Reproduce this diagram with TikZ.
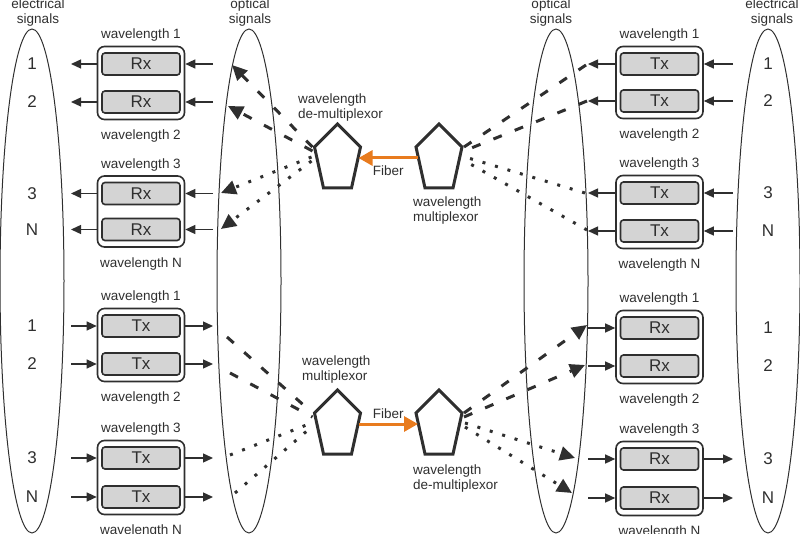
\documentclass[tikz,border=0pt]{standalone}
\usepackage{fontspec}
\setmainfont{Liberation Sans}
\usetikzlibrary{arrows.meta,positioning}
\definecolor{ink}{HTML}{2F2F2F}
\definecolor{unitgray}{HTML}{D4D4D4}
\definecolor{fiberorange}{HTML}{E87B1E}
\tikzset{
  lbl/.style={font=\fontsize{13.5}{15}\selectfont,text=ink,inner sep=0pt},
  num/.style={font=\fontsize{17}{18}\selectfont,text=ink,inner sep=0pt},
  frame/.style={draw=ink,line width=1.6pt,rounded corners=7pt,fill=white,minimum width=87pt},
  unit/.style={num,draw=ink,line width=1.6pt,rounded corners=3pt,fill=unitgray,minimum width=78pt,minimum height=22pt},
  sig/.style={draw=ink,line width=1.3pt,-{Triangle[length=10pt,width=9pt]}},
  dsh/.style={draw=ink,line width=3pt,dash pattern=on 9pt off 14pt},
  dts/.style={draw=ink,line width=3pt,dash pattern=on 3pt off 10pt},
  big tip/.style={-{Triangle[length=15pt,width=14pt]}},
  fib/.style={draw=fiberorange,line width=3pt,-{Triangle[length=14pt,width=15pt]}},
  penta/.pic={
    \draw[ink,line width=3pt,line join=miter] (0,-36)--(23,-13)--(14,28)--(-14,28)--(-23,-13)--cycle;
    \coordinate (-w) at (-21,-2); \coordinate (-e) at (21,-2);
    \foreach \p/\dx/\dy in {1/25/-13,2/25/-9,3/26/-3,4/26/1}{
      \coordinate (-w\p) at (-\dx,\dy); \coordinate (-e\p) at (\dx,\dy);
    }
  }
}
\begin{document}
\begin{tikzpicture}[x=1pt,y=-1pt]
\useasboundingbox (0,0) rectangle (800,534);
\foreach \e/\x in {elL/32,opL/249,opR/556,elR/768}{
  \coordinate (\e) at (\x,281);
  \draw[ink,line width=1pt] (\e) ellipse [x radius=32pt,y radius=252pt];
}
\node[lbl,align=center] (hd-elL) at (38,13) {electrical\\signals};
\node[lbl,align=center] (hd-opL) at (250,13) {optical\\signals};
\node[lbl,align=center] (hd-opR) at (551,13) {optical\\signals};
\node[lbl,align=center] (hd-elR) at (772,13) {electrical\\signals};

\foreach \n/\x/\ya/\yb/\u/\wa/\wb in {tl/141/64/102/Rx/1/2,tm/141/193.5/229.5/Rx/3/N,
    bl/141/326/364/Tx/1/2,bm/141/458/497/Tx/3/N,tr/659.5/64/101/Tx/1/2,tn/659.5/193/231/Tx/3/N,
    br/659.5/328/366/Rx/1/2,bn/659.5/459/498/Rx/3/N}{
  \node[frame,minimum height={\yb-\ya+35}] (\n) at (\x,{(\ya+\yb)/2}) {};
  \node[unit] (\n1) at (\x,\ya) {\u};
  \node[unit] (\n2) at (\x,\yb) {\u};
  \node[lbl,above=4pt of \n] (\n-up) {wavelength \wa};
  \node[lbl,below=9.5pt of \n] (\n-dn) {wavelength \wb};
}

\foreach \r/\t in {tl1/1,tl2/2,tm1/3,tm2/N,bl1/1,bl2/2,bm1/3,bm2/N}
  \node[num] (e-\r) at (elL |- \r) {\t};
\foreach \r/\t in {tr1/1,tr2/2,tn1/3,tn2/N,br1/1,br2/2,bn1/3,bn2/N}
  \node[num] (e-\r) at (elR |- \r) {\t};

\coordinate (eL) at (71,0);
\coordinate (oL) at (213,0);
\coordinate (oR) at (588,0);
\coordinate (eR) at (733,0);
\foreach \g/\r in {tl/tl1,tl/tl2,tm/tm1,tm/tm2}{
  \draw[sig] (oL |- \r) -- (\r -| \g.east);
  \draw[sig] (\r -| \g.west) -- (eL |- \r);
}
\foreach \g/\r in {bl/bl1,bl/bl2,bm/bm1,bm/bm2}{
  \draw[sig] (eL |- \r) -- (\r -| \g.west);
  \draw[sig] (\r -| \g.east) -- (oL |- \r);
}
\foreach \g/\r in {tr/tr1,tr/tr2,tn/tn1,tn/tn2}{
  \draw[sig] (eR |- \r) -- (\r -| \g.east);
  \draw[sig] (\r -| \g.west) -- (oR |- \r);
}
\foreach \g/\r in {br/br1,br/br2,bn/bn1,bn/bn2}
  \draw[sig] (oR |- \r) -- (\r -| \g.west);
\foreach \r in {bn1,bn2}
  \draw[sig] (\r -| bn.east) -- (eR |- \r);

\pic (dmxT) at (337.5,160) {penta};
\pic (mxT) at (439,160) {penta};
\pic (mxB) at (337.5,426) {penta};
\pic (dmxB) at (439,426) {penta};
\draw[fib] (mxT-w) -- node[lbl,below=6pt] (fibT) {Fiber} (dmxT-e);
\draw[fib] (mxB-e) -- node[lbl,above=4pt] (fibB) {Fiber} (dmxB-w);
\node[lbl,align=left,anchor=west] (dmxT-lbl) at (298,108) {wavelength\\de-multiplexor};
\node[lbl,align=left,anchor=west] (mxT-lbl) at (413,211) {wavelength\\multiplexor};
\node[lbl,align=left,anchor=west] (mxB-lbl) at (302,370) {wavelength\\multiplexor};
\node[lbl,align=left,anchor=west] (dmxB-lbl) at (413,479) {wavelength\\de-multiplexor};

\foreach \c/\x/\y in {tl-a/232/65,tl-b/228/106,tl-c/221/193,tl-d/221/229,
    tr-a/586/65,tr-b/587/101,tr-c/585/193,tr-d/587/230,
    bl-a/227/337,bl-b/230/373,bl-c/230/455,bl-d/235/493,
    br-a/587/325,br-b/585/365,br-c/575/458,br-d/572/493}
  \coordinate (\c) at (\x,\y);
\foreach \p/\a/\s in {1/a/dsh,2/b/dsh,3/c/dts,4/d/dts}{
  \draw[\s,big tip] (dmxT-w\p) -- (tl-\a);
  \draw[\s] (tr-\a) -- (mxT-e\p);
  \draw[\s] (bl-\a) -- (mxB-w\p);
  \draw[\s,big tip] (dmxB-e\p) -- (br-\a);
}
\end{tikzpicture}
\end{document}
